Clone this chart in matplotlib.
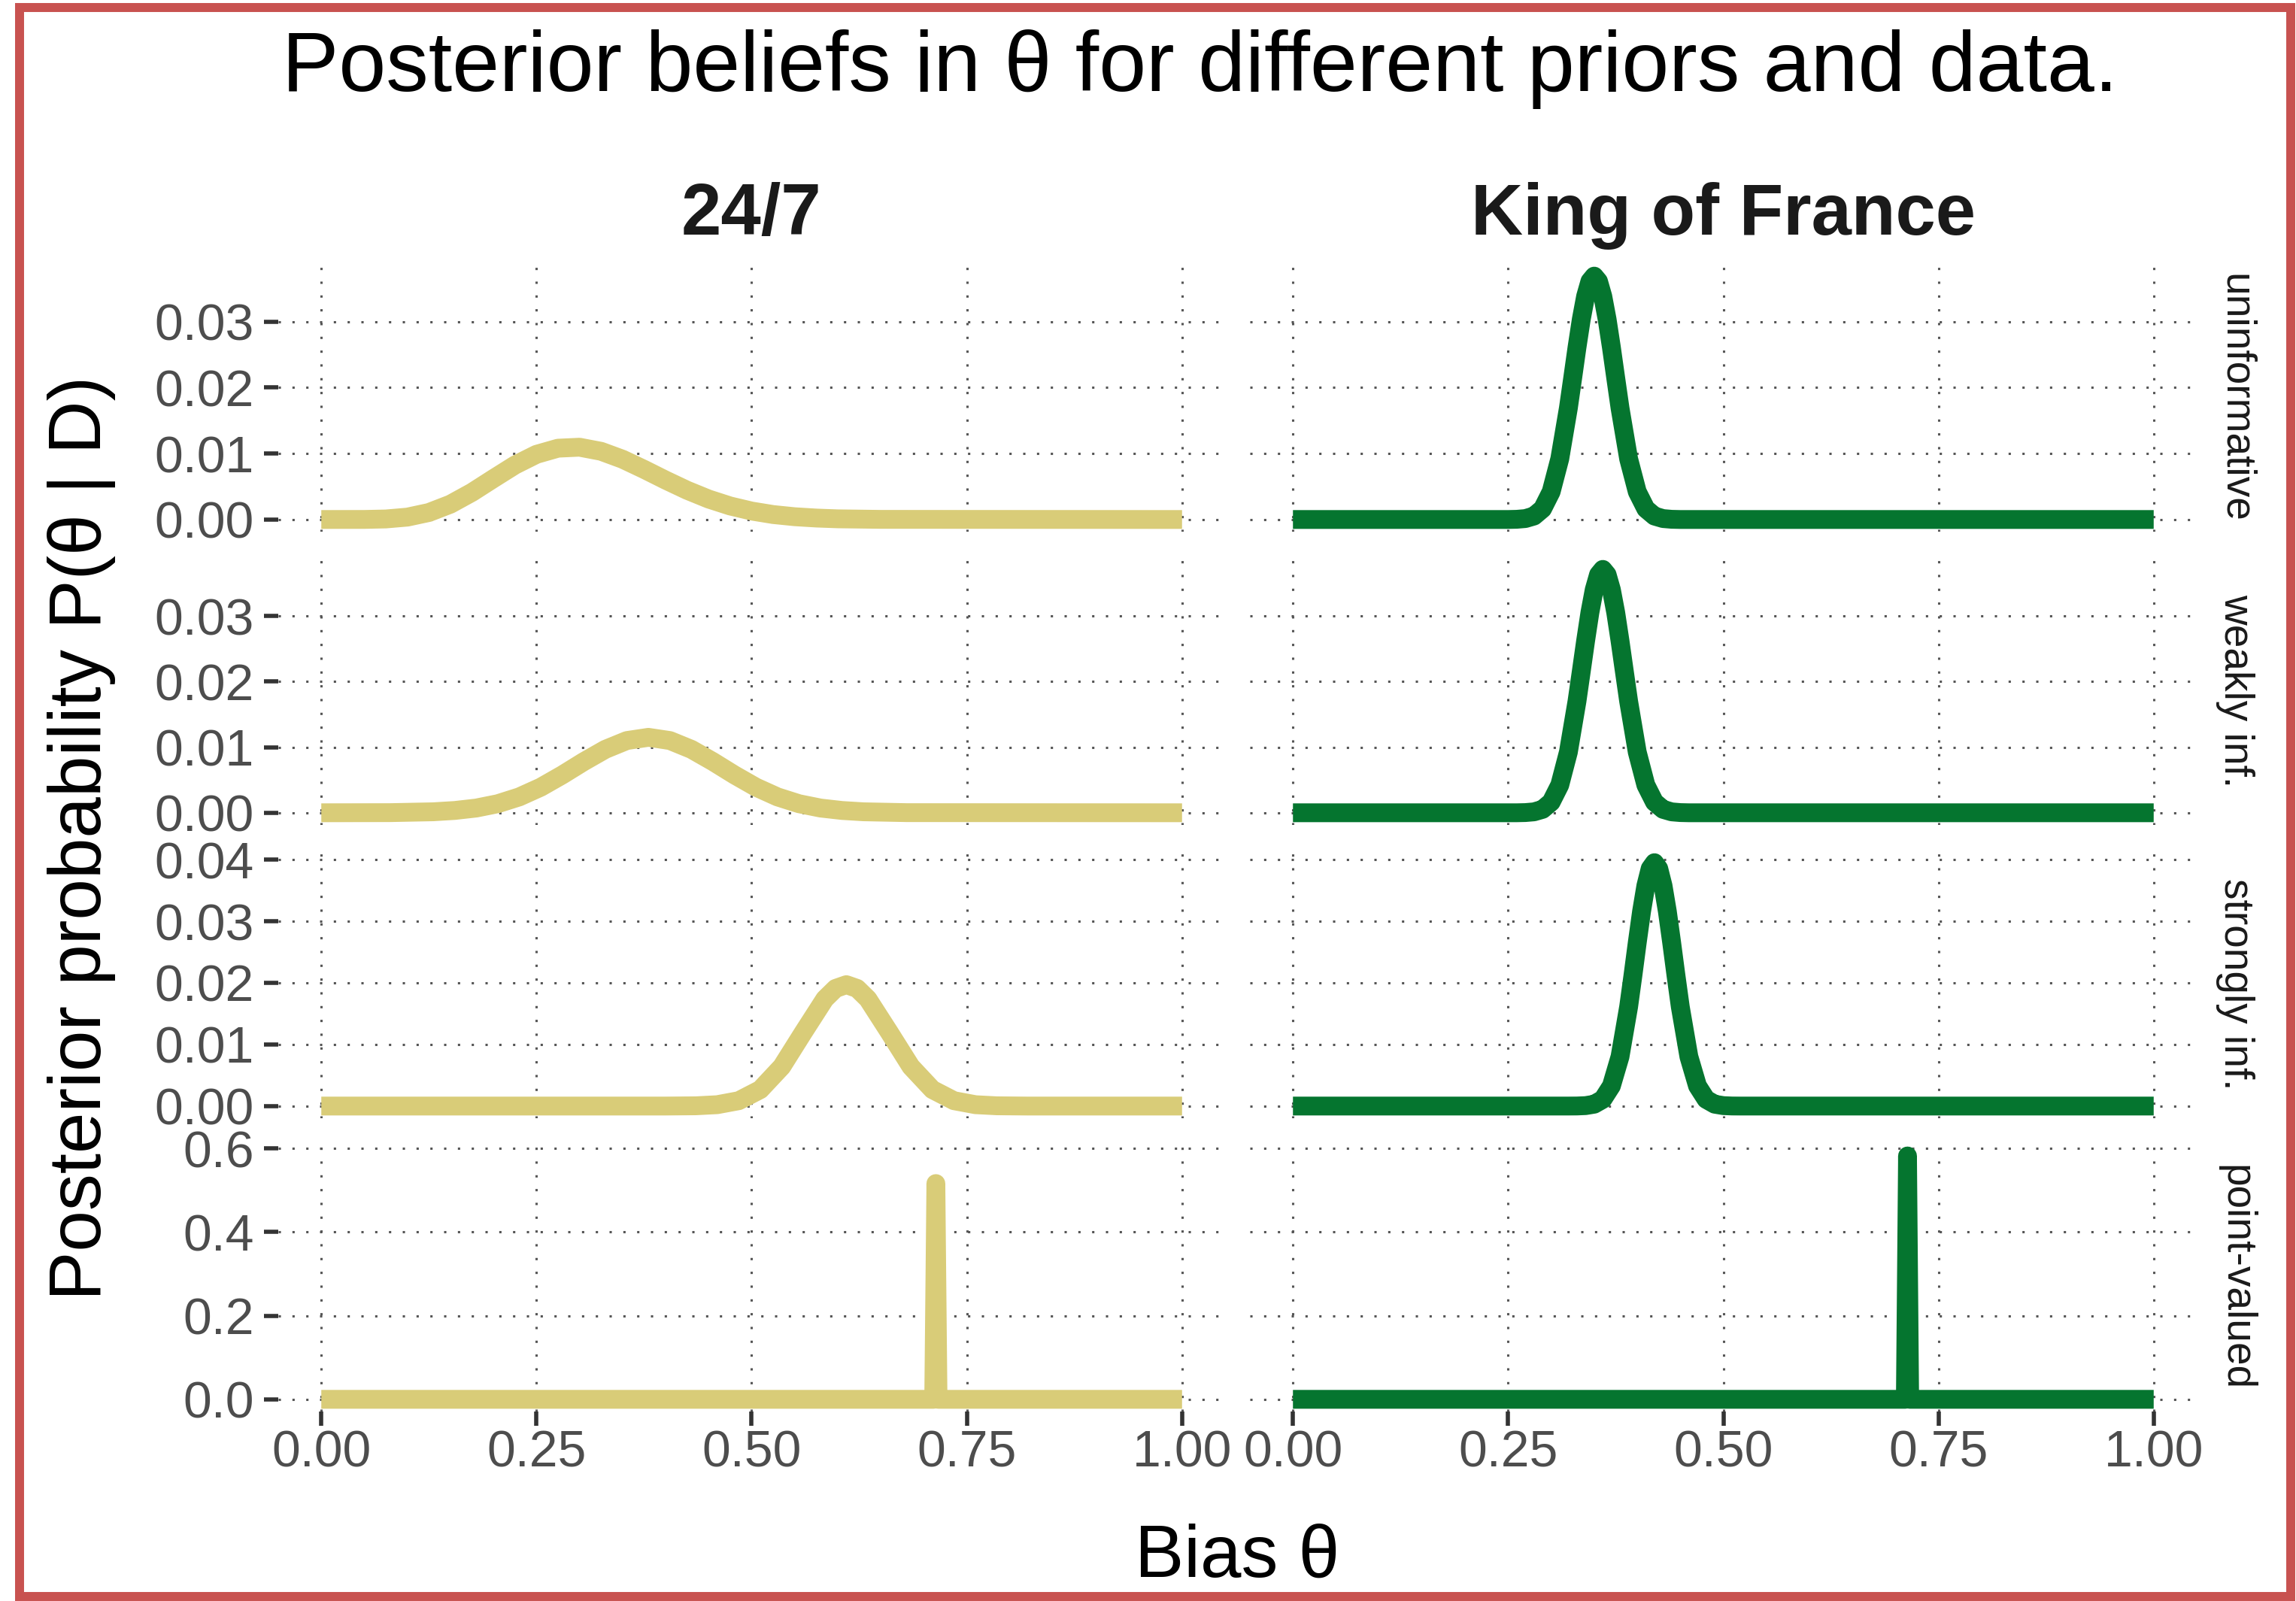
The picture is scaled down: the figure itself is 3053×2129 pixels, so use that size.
import numpy as np
import matplotlib
matplotlib.use("Agg")
import matplotlib.pyplot as plt
from matplotlib.patches import Rectangle

plt.rcParams['font.family'] = ['Liberation Sans', 'DejaVu Sans']

data_sets = ['24/7', 'King of France']
priors = ['uninformative', 'weakly inf.', 'strongly inf.', 'point-valued']
line_colors = ['#D9CC78', '#05752F']

# posterior over the bias, 24/7 data
theta_247_uninf = [0.0, 0.05, 0.075, 0.1, 0.125, 0.15, 0.175, 0.2, 0.225, 0.25, 0.275, 0.3, 0.325,
                   0.35, 0.375, 0.4, 0.425, 0.45, 0.475, 0.5, 0.525, 0.55, 0.575, 0.6, 0.65, 1.0]
post_247_uninf = [0.0, 0.00001, 0.00008, 0.00036, 0.00106, 0.00232, 0.00411, 0.0062, 0.00825, 0.00988,
                  0.01081, 0.01096, 0.01034, 0.00914, 0.0076, 0.00597, 0.00443, 0.0031, 0.00205, 0.00128,
                  0.00075, 0.00042, 0.00022, 0.0001, 0.00002, 0.0]

theta_247_weak = [0.0, 0.08, 0.13, 0.155, 0.18, 0.205, 0.23, 0.255, 0.28, 0.305, 0.33, 0.355, 0.38,
                  0.405, 0.43, 0.455, 0.48, 0.505, 0.53, 0.555, 0.58, 0.605, 0.63, 0.68, 1.0]
post_247_weak = [0.0, 0.00002, 0.00015, 0.00035, 0.00072, 0.00138, 0.00242, 0.0039, 0.00577, 0.0078,
                 0.00967, 0.01101, 0.0115, 0.01101, 0.00967, 0.0078, 0.00577, 0.0039, 0.00242, 0.00138,
                 0.00072, 0.00035, 0.00015, 0.00002, 0.0]

theta_247_strong = [0.0, 0.4, 0.435, 0.46, 0.485, 0.51, 0.535, 0.56, 0.585, 0.5975, 0.61, 0.6225,
                    0.635, 0.66, 0.685, 0.71, 0.735, 0.76, 0.785, 0.82, 1.0]
post_247_strong = [0.0, 0.0, 0.00004, 0.00022, 0.00087, 0.00267, 0.0064, 0.01195, 0.01738, 0.01909,
                   0.0197, 0.01909, 0.01738, 0.01195, 0.0064, 0.00267, 0.00087, 0.00022, 0.00004, 0.0, 0.0]

theta_247_point = [0.0, 0.7115, 0.714, 0.7165, 1.0]
post_247_point = [0.0, 0.0, 0.516, 0.0, 0.0]

# posterior over the bias, King of France data
theta_kof_uninf = [0.0, 0.25, 0.26, 0.27, 0.28, 0.29, 0.3, 0.31, 0.32, 0.325, 0.33, 0.335, 0.34, 0.345,
                   0.35, 0.355, 0.36, 0.365, 0.37, 0.375, 0.38, 0.39, 0.4, 0.41, 0.42, 0.43, 0.44,
                   0.45, 1.0]
post_kof_uninf = [0.0, 0.0, 0.00003, 0.00014, 0.00052, 0.00162, 0.00421, 0.0092, 0.0169, 0.02145,
                  0.02608, 0.03035, 0.03383, 0.03611, 0.0369, 0.03611, 0.03383, 0.03035, 0.02608,
                  0.02145, 0.0169, 0.0092, 0.00421, 0.00162, 0.00052, 0.00014, 0.00003, 0.0, 0.0]

theta_kof_weak = [0.0, 0.26, 0.27, 0.28, 0.29, 0.3, 0.31, 0.32, 0.33, 0.335, 0.34, 0.345, 0.35, 0.355,
                  0.36, 0.365, 0.37, 0.375, 0.38, 0.385, 0.39, 0.4, 0.41, 0.42, 0.43, 0.44, 0.45,
                  0.46, 1.0]
post_kof_weak = [0.0, 0.0, 0.00003, 0.00014, 0.00052, 0.00163, 0.00423, 0.00925, 0.017, 0.02157,
                 0.0262, 0.03052, 0.034, 0.0363, 0.0371, 0.0363, 0.034, 0.03052, 0.0262,
                 0.02157, 0.017, 0.00925, 0.00423, 0.00163, 0.00052, 0.00014, 0.00003, 0.0, 0.0]

theta_kof_strong = [0.0, 0.32, 0.33, 0.34, 0.35, 0.36, 0.37, 0.38, 0.39, 0.395, 0.4, 0.405, 0.41, 0.415,
                    0.42, 0.425, 0.43, 0.435, 0.44, 0.445, 0.45, 0.46, 0.47, 0.48, 0.49, 0.5, 0.51,
                    0.52, 1.0]
post_kof_strong = [0.0, 0.0, 0.00001, 0.00007, 0.0003, 0.00109, 0.00327, 0.00802, 0.01612, 0.0212,
                   0.02652, 0.03157, 0.03575, 0.03853, 0.0395, 0.03853, 0.03575, 0.03157, 0.02652,
                   0.0212, 0.01612, 0.00802, 0.00327, 0.00109, 0.0003, 0.00007, 0.00001, 0.0, 0.0]

theta_kof_point = [0.0, 0.7115, 0.714, 0.7165, 1.0]
post_kof_point = [0.0, 0.0, 0.582, 0.0, 0.0]

curves = [
    [(theta_247_uninf, post_247_uninf), (theta_kof_uninf, post_kof_uninf)],
    [(theta_247_weak, post_247_weak), (theta_kof_weak, post_kof_weak)],
    [(theta_247_strong, post_247_strong), (theta_kof_strong, post_kof_strong)],
    [(theta_247_point, post_247_point), (theta_kof_point, post_kof_point)],
]

x_ticks = [0.0, 0.25, 0.5, 0.75, 1.0]
x_labels = ['0.00', '0.25', '0.50', '0.75', '1.00']
y_ticks = [[0.0, 0.01, 0.02, 0.03],
           [0.0, 0.01, 0.02, 0.03],
           [0.0, 0.01, 0.02, 0.03, 0.04],
           [0.0, 0.2, 0.4, 0.6]]
y_labels = [['0.00', '0.01', '0.02', '0.03'],
            ['0.00', '0.01', '0.02', '0.03'],
            ['0.00', '0.01', '0.02', '0.03', '0.04'],
            ['0.0', '0.2', '0.4', '0.6']]

# panel grid in pixels
W, H = 3053, 2129
col_x = [(370, 1629), (1662, 2921)]
row_y = [(351, 707), (741, 1097), (1131, 1487), (1521, 1877)]

fig = plt.figure(figsize=(W / 100, H / 100), dpi=100)
fig.patch.set_facecolor('white')

for r in range(4):
    # shared y range per row, with 5% padding like the default facet scales
    ymax = max(max(curves[r][0][1]), max(curves[r][1][1]))
    for c in range(2):
        x0, x1 = col_x[c]
        y0, y1 = row_y[r]
        ax = fig.add_axes([x0 / W, 1 - y1 / H, (x1 - x0) / W, (y1 - y0) / H])
        th, post = curves[r][c]
        ax.plot(th, post, color=line_colors[c], lw=18,
                solid_capstyle='butt', solid_joinstyle='round', zorder=3)
        ax.set_xlim(-0.05, 1.05)
        ax.set_ylim(-0.05 * ymax, 1.05 * ymax)
        ax.set_xticks(x_ticks)
        ax.set_yticks(y_ticks[r])
        ax.set_xticklabels(x_labels)
        ax.set_yticklabels(y_labels[r])
        ax.grid(True, color='#555555', linestyle=(0, (1, 5)), linewidth=2.2)
        ax.set_axisbelow(True)
        for s in ax.spines.values():
            s.set_visible(False)
        ax.tick_params(axis='both', direction='out', length=13.7, width=4,
                       color='#333333', labelcolor='#4D4D4D', labelsize=49)
        ax.tick_params(axis='y', pad=9.4)
        ax.tick_params(axis='x', pad=3)
        if c == 1:
            ax.tick_params(axis='y', length=0, labelleft=False)
        if r < 3:
            ax.tick_params(axis='x', length=0, labelbottom=False)
        if c == 1:
            fig.text(2972 / W, 1 - (y0 + y1) / 2 / H, priors[r], rotation=-90,
                     ha='center', va='center', fontsize=39.6, color='#1A1A1A')

for c in range(2):
    fig.text((col_x[c][0] + col_x[c][1]) / 2 / W, 1 - 312 / H, data_sets[c],
             ha='center', va='baseline', fontsize=69, fontweight='bold', color='#1A1A1A')

fig.text(1596 / W, 1 - 121 / H, 'Posterior beliefs in θ for different priors and data.',
         ha='center', va='baseline', fontsize=81.4, color='black')
fig.text(1645 / W, 1 - 2097 / H, 'Bias θ', ha='center', va='baseline', fontsize=70.6)
fig.text(109 / W, 1 - 1114 / H, 'Posterior probability P(θ | D)', rotation=90,
         ha='center', va='center', fontsize=70.6)

# frame around the whole figure
fig.patches.append(Rectangle((26 / W, 1 - 2123 / H), (3046 - 26) / W, (2123 - 10) / H,
                             transform=fig.transFigure, fill=False, edgecolor='#C85250',
                             linewidth=8.6))

fig.savefig('out.png', dpi=100)
